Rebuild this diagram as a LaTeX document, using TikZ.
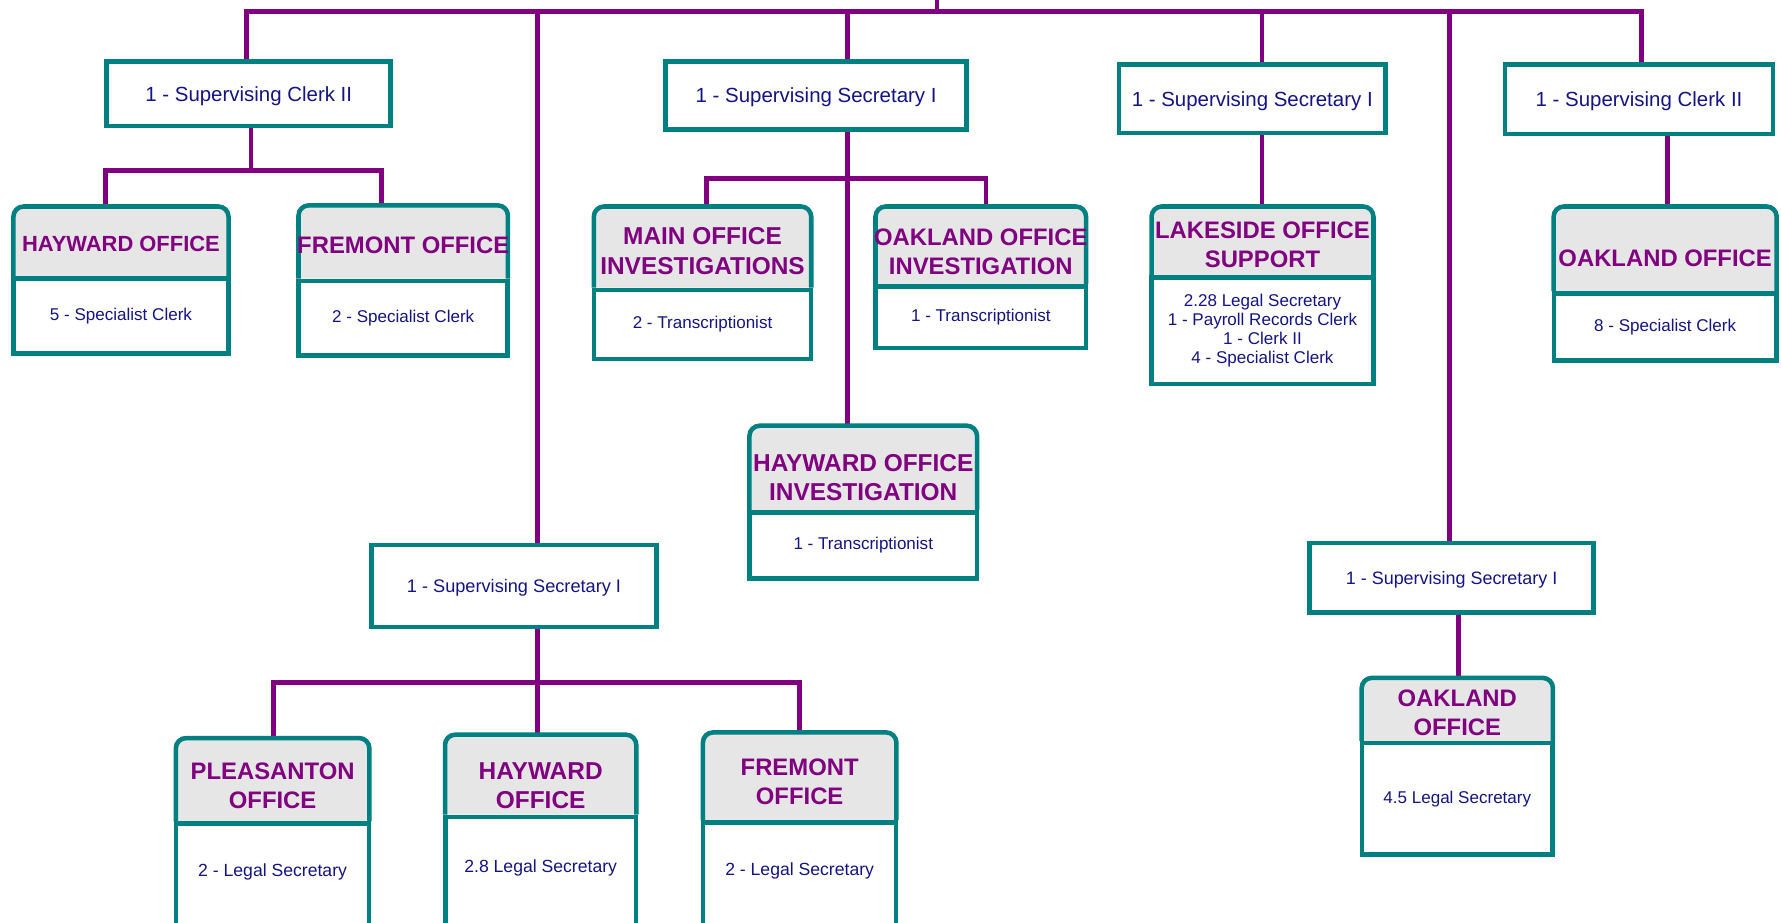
\documentclass[tikz,border=0pt]{standalone}
\usepackage{fontspec}
\setmainfont{Liberation Sans}
\definecolor{tealc}{RGB}{0,128,128}
\definecolor{purpc}{RGB}{128,0,128}
\definecolor{hdrfill}{RGB}{230,230,230}
\definecolor{navyc}{RGB}{20,20,130}
\pgfdeclarelayer{bg}
\pgfsetlayers{bg,main}
\tikzset{
  boxline/.style={draw=tealc, line width=4pt},
  conn/.style={draw=purpc, line width=4pt},
  supbox/.style={boxline, fill=white, inner sep=0pt, text=navyc, text depth=0pt, font=\fontsize{18}{21}\selectfont},
  hdrbox/.style={draw=none, inner sep=0pt},
  hdrtext/.style={text=purpc, inner sep=0pt, align=center, font=\bfseries\fontsize{21}{25.5}\selectfont},
  bodybox/.style={boxline, fill=white, inner sep=0pt, text=navyc, align=center, font=\fontsize{15}{16.7}\selectfont, anchor=north},
}
\newcommand\HdrShape[1]{\draw[boxline, fill=hdrfill, rounded corners=9pt] (#1.south west) -- (#1.north west) -- (#1.north east) -- (#1.south east);}
\begin{document}
\begin{tikzpicture}[x=1pt,y=-1pt]
\useasboundingbox (0,0) rectangle (1568,812);
\clip (0,0) rectangle (1568,812);
\begin{pgfonlayer}{bg}
\fill[white] (0,0) rectangle (1568,812);
\end{pgfonlayer}

% supervisor boxes
\node[supbox, minimum width=250, minimum height=57] (supA) at (219,82.5) {1 - Supervising Clerk II};
\node[supbox, minimum width=265, minimum height=60] (supB) at (718.5,84) {1 - Supervising Secretary I};
\node[supbox, minimum width=235, minimum height=60] (supC) at (1102.5,87) {1 - Supervising Secretary I};
\node[supbox, minimum width=236, minimum height=61] (supD) at (1443,87.5) {1 - Supervising Clerk II};
\node[supbox, minimum width=251, minimum height=72, font=\fontsize{16}{19}\selectfont] (supE) at (452.5,516) {1 - Supervising Secretary I};
\node[supbox, minimum width=250, minimum height=61, font=\fontsize{15.8}{19}\selectfont] (supF) at (1278,508.5) {1 - Supervising Secretary I};

% office boxes: header
\node[hdrbox, minimum width=189, minimum height=61] (h1) at (106.5,212.5) {};
\node[hdrbox, minimum width=184, minimum height=64] (h2) at (355,213) {};
\node[hdrbox, minimum width=191, minimum height=71] (h3) at (618.5,217.5) {};
\node[hdrbox, minimum width=185, minimum height=68] (h4) at (863.5,216) {};
\node[hdrbox, minimum width=200, minimum height=74] (h5) at (760,412) {};
\node[hdrbox, minimum width=195, minimum height=60] (h6) at (1111.5,212) {};
\node[hdrbox, minimum width=196, minimum height=74] (h7) at (1466,219) {};
\node[hdrbox, minimum width=170, minimum height=73] (h8) at (240,686.5) {};
\node[hdrbox, minimum width=168, minimum height=70] (h9) at (476,682) {};
\node[hdrbox, minimum width=170, minimum height=77] (h10) at (704,683.5) {};
\node[hdrbox, minimum width=168, minimum height=55] (h11) at (1283,624.5) {};

\foreach \h in {h1,h2,h3,h4,h5,h6,h7,h8,h9,h10,h11} {\HdrShape{\h}}

% bodies
\node[bodybox, minimum width=189, minimum height=66] (b1) at (h1.south) {5 - Specialist Clerk};
\node[bodybox, minimum width=184, minimum height=66] (b2) at (h2.south) {2 - Specialist Clerk};
\node[bodybox, minimum width=191, minimum height=61] (b3) at (h3.south) {2 - Transcriptionist};
\node[bodybox, minimum width=185, minimum height=54] (b4) at (h4.south) {1 - Transcriptionist};
\node[bodybox, minimum width=200, minimum height=58] (b5) at (h5.south) {1 - Transcriptionist};
\node[bodybox, minimum width=195, minimum height=94] (b6) at (h6.south) {2.28 Legal Secretary\\1 - Payroll Records Clerk\\1 - Clerk II\\4 - Specialist Clerk};
\node[bodybox, minimum width=196, minimum height=59] (b7) at (h7.south) {8 - Specialist Clerk};
\node[bodybox, minimum width=170, minimum height=120] (b8) at (h8.south) {};
\node[bodybox, minimum width=168, minimum height=120] (b9) at (h9.south) {};
\node[bodybox, minimum width=170, minimum height=120] (b10) at (h10.south) {};
\node[bodybox, minimum width=168, minimum height=98] (b11) at (h11.south) {4.5 Legal Secretary};

% body texts of the cut-off boxes
\node[text=navyc, inner sep=0pt, font=\fontsize{15.5}{18}\selectfont] (b8t) at (240,768) {2 - Legal Secretary};
\node[text=navyc, inner sep=0pt, font=\fontsize{15.5}{18}\selectfont] (b9t) at (476,764) {2.8 Legal Secretary};
\node[text=navyc, inner sep=0pt, font=\fontsize{15.5}{18}\selectfont] (b10t) at (704,767) {2 - Legal Secretary};

% header texts
\node[hdrtext, font=\bfseries\fontsize{19.3}{24}\selectfont] (t1) at (106.5,215) {HAYWARD OFFICE};
\node[hdrtext] (t2) at (355,216) {FREMONT OFFICE};
\node[hdrtext, font=\bfseries\fontsize{21.5}{26}\selectfont] (t3) at (618.5,221) {MAIN OFFICE\\INVESTIGATIONS};
\node[hdrtext] (t4) at (863.5,222) {OAKLAND OFFICE\\INVESTIGATION};
\node[hdrtext, font=\bfseries\fontsize{21.5}{25.5}\selectfont] (t5) at (760,420.5) {HAYWARD OFFICE\\INVESTIGATION};
\node[hdrtext] (t6) at (1111.5,215.5) {LAKESIDE OFFICE\\SUPPORT};
\node[hdrtext] (t7) at (1466,227) {OAKLAND OFFICE};
\node[hdrtext] (t8) at (240,691.5) {PLEASANTON\\OFFICE};
\node[hdrtext, font=\bfseries\fontsize{21.5}{25.5}\selectfont] (t9) at (476,691.5) {HAYWARD\\OFFICE};
\node[hdrtext] (t10) at (704,688.5) {FREMONT\\OFFICE};
\node[hdrtext] (t11) at (1283,627.5) {OAKLAND\\OFFICE};

% connectors
\begin{pgfonlayer}{bg}
\coordinate (top) at (825,-5);
\coordinate (bar) at (825,10);
\draw[conn] (top) -- (bar);
\draw[conn] ([xshift=-2pt]supA.north) |- (bar);
\draw[conn] ([xshift=20.5pt]supE.north) |- (bar);
\draw[conn] ([xshift=27.5pt]supB.north) |- (bar);
\draw[conn] ([xshift=8.5pt]supC.north) |- (bar);
\draw[conn] ([xshift=-2pt]supF.north) |- (bar);
\draw[conn] ([xshift=2pt]supD.north) |- (bar);

\coordinate (jA) at (221,150);
\draw[conn] ([xshift=2pt]supA.south) -- (jA);
\draw[conn] ([xshift=-13.5pt]h1.north) |- (jA);
\draw[conn] ([xshift=-19pt]h2.north) |- (jA);

\coordinate (jB) at (746,157);
\draw[conn] ([xshift=27.5pt]supB.south) -- ([xshift=-14pt]h5.north);
\draw[conn] ([xshift=3.5pt]h3.north) |- (jB) -| ([xshift=4.5pt]h4.north);

\draw[conn] ([xshift=8.5pt]supC.south) -- ([xshift=-0.5pt]h6.north);
\draw[conn] ([xshift=25pt]supD.south) -- ([xshift=2pt]h7.north);

\coordinate (jE) at (473,601);
\draw[conn] ([xshift=20.5pt]supE.south) -- (jE);
\draw[conn] ([xshift=1pt]h8.north) |- (jE);
\draw[conn] ([xshift=-3pt]h9.north) -- (jE);
\draw[conn] (h10.north) |- (jE);

\draw[conn] ([xshift=6pt]supF.south) -- ([xshift=1pt]h11.north);
\end{pgfonlayer}
\end{tikzpicture}
\end{document}
